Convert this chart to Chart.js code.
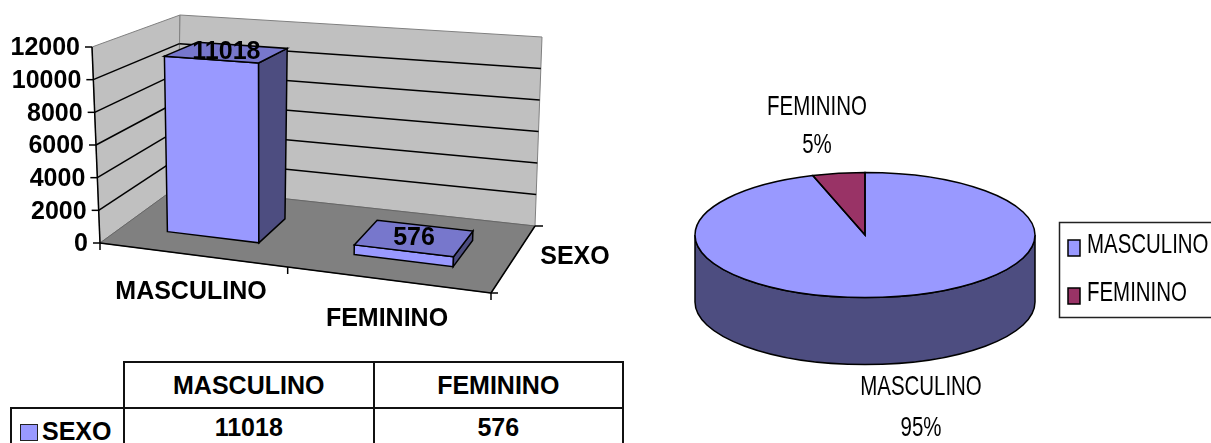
<!DOCTYPE html>
<html>
<head>
<meta charset="utf-8">
<title>SEXO</title>
<script src="https://cdn.jsdelivr.net/npm/chart.js@4"></script>
<style>
    html, body { margin: 0; background: #fff; overflow: hidden; }
    body { width: 1211px; height: 443px; position: relative; font-family: "Liberation Sans", Arial, sans-serif; }
    canvas { position: absolute; top: 0; }
    #barChart { left: 0; }
    #pieChart { left: 650px; }
    table { position: absolute; left: 10px; top: 361px; border-collapse: collapse; table-layout: fixed; width: 614px; }
    th, td { border: 2px solid #111; font-size: 25px; font-weight: bold; text-align: center; padding: 0; height: 44px; color: #000; line-height: 1; }
    th.blank { border-top: 0; border-left: 0; width: 112px; }
    td.name { text-align: left; white-space: nowrap; }
    td.name i { display: inline-block; width: 16px; height: 15px; background: #9999FF; border: 1.5px solid #222; margin: 0 4px 0 8px; vertical-align: -1px; }
    td { vertical-align: top; padding-top: 6px; height: 38px; }
    td.name { padding-top: 10px; height: 34px; }
</style>
</head>
<body>
<canvas id="barChart" width="650" height="345"></canvas>
<canvas id="pieChart" width="561" height="443"></canvas>
<table id="dataTable"></table>

<script>
const categories = ['MASCULINO', 'FEMININO'];
const seriesName = 'SEXO';
const sexoValues = [11018, 576];

const FONT = '"Liberation Sans", Arial, sans-serif';
const BOLD = 'bold 25px ' + FONT;

// corners of the 3d box on the page: u = along categories, v = depth, w = height
const box = {
    bottom: { front: [[100, 243], [491, 293]], back: [[177, 187], [535, 226]] },
    top: { front: [[92, 47], [499, 76]], back: [[180, 15], [542, 37]] }
};

function mix(a, b, t) {
    return [a[0] + (b[0] - a[0]) * t, a[1] + (b[1] - a[1]) * t];
}

function project(u, v, w) {
    // slight perspective along the category axis, the ends stay where they are
    const s = u - 0.08 * u * (1 - u);
    const low = mix(mix(box.bottom.front[0], box.bottom.front[1], s), mix(box.bottom.back[0], box.bottom.back[1], s), v);
    const high = mix(mix(box.top.front[0], box.top.front[1], s), mix(box.top.back[0], box.top.back[1], s), v);
    return mix(low, high, w);
}

function polygon(ctx, points, fill, stroke, lineWidth) {
    ctx.beginPath();
    points.forEach((p, i) => i ? ctx.lineTo(p[0], p[1]) : ctx.moveTo(p[0], p[1]));
    ctx.closePath();
    if (fill) { ctx.fillStyle = fill; ctx.fill(); }
    if (stroke) { ctx.strokeStyle = stroke; ctx.lineWidth = lineWidth || 1; ctx.stroke(); }
}

function line(ctx, a, b, color, width) {
    ctx.beginPath();
    ctx.moveTo(a[0], a[1]);
    ctx.lineTo(b[0], b[1]);
    ctx.strokeStyle = color;
    ctx.lineWidth = width;
    ctx.stroke();
}

function text(ctx, str, x, y, font, align) {
    ctx.font = font;
    ctx.fillStyle = '#000';
    ctx.textAlign = align || 'center';
    ctx.textBaseline = 'middle';
    ctx.fillText(str, x, y);
}

// the bars stay normal chart.js bars, this only redraws them as boxes
const box3d = {
    id: 'box3d',
    beforeDatasetsDraw(chart) {
        const ctx = chart.ctx;
        const yScale = chart.scales.y;
        const height = yScale.bottom - yScale.top;

        polygon(ctx, [project(0, 0, 0), project(0, 1, 0), project(0, 1, 1), project(0, 0, 1)], '#C0C0C0', '#808080', 1);
        polygon(ctx, [project(0, 1, 0), project(1, 1, 0), project(1, 1, 1), project(0, 1, 1)], '#C0C0C0', '#808080', 1);
        polygon(ctx, [project(0, 0, 0), project(1, 0, 0), project(1, 1, 0), project(0, 1, 0)], '#808080', '#666', 1);

        yScale.ticks.forEach(tick => {
            const w = (yScale.bottom - yScale.getPixelForValue(tick.value)) / height;
            const front = project(0, 0, w);
            if (w > 0 && w < 1) {
                line(ctx, front, project(0, 1, w), '#000', 1.5);
                line(ctx, project(0, 1, w), project(1, 1, w), '#000', 1.5);
            }
            line(ctx, [front[0] - 7, front[1]], front, '#000', 1.5);
            text(ctx, String(tick.value), front[0] - 12, front[1] + 1.5, BOLD, 'right');
        });

        line(ctx, project(0, 0, 0), project(0, 0, 1), '#000', 1.5);
        line(ctx, project(0, 0, 0), project(1, 0, 0), '#000', 1.5);
        line(ctx, project(1, 0, 0), project(1, 1, 0), '#000', 1.5);
        [0, 0.5, 1].forEach(u => {
            const p = project(u, 0, 0);
            line(ctx, p, [p[0], p[1] + 7], '#000', 1.5);
        });
        const corner = project(1, 0, 0);
        const end = project(1, 1, 0);
        line(ctx, corner, [corner[0] + 7, corner[1]], '#000', 1.5);
        line(ctx, end, [end[0] + 8, end[1]], '#000', 1.5);

        text(ctx, categories[0], 191, 292, BOLD);
        text(ctx, categories[1], 387, 319, BOLD);
        text(ctx, seriesName, 575, 257, BOLD);
    },
    beforeDatasetDraw(chart, args) {
        const ctx = chart.ctx;
        const area = chart.chartArea;
        const yScale = chart.scales.y;
        const ds = chart.data.datasets[args.index];
        args.meta.data.forEach((bar, i) => {
            const u0 = (bar.x - bar.width / 2 - area.left) / area.width;
            const u1 = (bar.x + bar.width / 2 - area.left) / area.width;
            const w = (yScale.bottom - bar.y) / (yScale.bottom - yScale.top);
            const v0 = 0.3, v1 = 0.7;

            polygon(ctx, [project(u0, v0, 0), project(u1, v0, 0), project(u1, v0, w), project(u0, v0, w)], ds.backgroundColor, '#000', 1.5);
            polygon(ctx, [project(u1, v0, 0), project(u1, v1, 0), project(u1, v1, w), project(u1, v0, w)], '#4D4D80', '#000', 1.5);
            polygon(ctx, [project(u0, v0, w), project(u1, v0, w), project(u1, v1, w), project(u0, v1, w)], '#7777CC', '#000', 1.5);

            const mid = project((u0 + u1) / 2, (v0 + v1) / 2, w);
            text(ctx, String(ds.data[i]), mid[0], mid[1], BOLD);
        });
        return false;
    }
};

new Chart(document.getElementById('barChart'), {
    type: 'bar',
    data: {
        labels: categories,
        datasets: [{ label: seriesName, data: sexoValues, backgroundColor: '#9999FF', barPercentage: 0.5, categoryPercentage: 1 }]
    },
    options: {
        responsive: false,
        animation: false,
        layout: { padding: { left: 100, right: 650 - 491, top: 47, bottom: 345 - 243 } },
        plugins: { legend: { display: false }, tooltip: { enabled: false } },
        scales: {
            x: { display: false },
            y: { display: false, min: 0, max: 12000, ticks: { stepSize: 2000 } }
        }
    },
    plugins: [box3d]
});

// pie text in the reference is narrow and tall
function narrowText(ctx, str, x, y) {
    ctx.save();
    ctx.translate(x, y);
    ctx.scale(0.73, 1);
    text(ctx, str, 0, 0, '28px ' + FONT);
    ctx.restore();
}

const PIE_SQUASH = 62.5 / 170;
const PIE_DEPTH = 67;

const pie3d = {
    id: 'pie3d',
    beforeDatasetsDraw(chart) {
        const ctx = chart.ctx;
        const arcs = chart.getDatasetMeta(0).data;
        const cx = arcs[0].x, cy = arcs[0].y, r = arcs[0].outerRadius;
        const ry = r * PIE_SQUASH;

        // side wall, only the front half is visible
        arcs.forEach(arc => {
            const a0 = Math.max(arc.startAngle, 0);
            const a1 = Math.min(arc.endAngle, Math.PI);
            if (a1 <= a0) return;
            ctx.beginPath();
            ctx.ellipse(cx, cy, r, ry, 0, a0, a1);
            ctx.ellipse(cx, cy + PIE_DEPTH, r, ry, 0, a1, a0, true);
            ctx.closePath();
            ctx.fillStyle = '#4D4D80';
            ctx.fill();
            ctx.strokeStyle = '#000';
            ctx.lineWidth = 1.5;
            ctx.stroke();
        });

        ctx.save();
        ctx.translate(cx, cy);
        ctx.scale(1, PIE_SQUASH);
        ctx.translate(-cx, -cy);
    },
    afterDatasetsDraw(chart) {
        const ctx = chart.ctx;
        ctx.restore();
        const arcs = chart.getDatasetMeta(0).data;
        const ry = arcs[0].outerRadius * PIE_SQUASH;
        arcs.forEach(arc => {
            ctx.beginPath();
            ctx.moveTo(arc.x, arc.y);
            ctx.ellipse(arc.x, arc.y, arc.outerRadius, ry, 0, arc.startAngle, arc.endAngle);
            ctx.closePath();
            ctx.strokeStyle = '#000';
            ctx.lineWidth = 1.5;
            ctx.stroke();
        });

        const values = chart.data.datasets[0].data;
        const total = values.reduce((a, b) => a + b, 0);
        const labelSpots = [[921 - 650, 387, 428], [817 - 650, 107, 145]];
        chart.data.labels.forEach((label, i) => {
            narrowText(ctx, label, labelSpots[i][0], labelSpots[i][1]);
            narrowText(ctx, Math.round(values[i] / total * 100) + '%', labelSpots[i][0], labelSpots[i][2]);
        });

        // legend box runs off the right edge of the page
        ctx.strokeStyle = '#222';
        ctx.lineWidth = 1.5;
        ctx.strokeRect(1059.5 - 650, 222.5, 170, 95);
        const legendY = [248, 296];
        chart.data.labels.forEach((label, i) => {
            ctx.fillStyle = chart.data.datasets[0].backgroundColor[i];
            ctx.fillRect(1068 - 650, legendY[i] - 8, 12, 16);
            ctx.strokeStyle = '#000';
            ctx.lineWidth = 1.5;
            ctx.strokeRect(1068 - 650, legendY[i] - 8, 12, 16);
            ctx.save();
            ctx.translate(1087 - 650, legendY[i] - 3);
            ctx.scale(0.73, 1);
            text(ctx, label, 0, 0, '28px ' + FONT, 'left');
            ctx.restore();
        });
    }
};

new Chart(document.getElementById('pieChart'), {
    type: 'pie',
    data: {
        labels: categories,
        datasets: [{ data: sexoValues, backgroundColor: ['#9999FF', '#993366'], borderWidth: 0 }]
    },
    options: {
        responsive: false,
        animation: false,
        layout: { padding: { left: 45, right: 561 - 385, top: 65, bottom: 443 - 405 } },
        plugins: { legend: { display: false }, tooltip: { enabled: false } }
    },
    plugins: [pie3d]
});

// data table under the bar chart
const table = document.getElementById('dataTable');
const headRow = table.insertRow();
const blank = document.createElement('th');
blank.className = 'blank';
headRow.appendChild(blank);
categories.forEach(name => {
    const th = document.createElement('th');
    th.textContent = name;
    headRow.appendChild(th);
});
const valueRow = table.insertRow();
const nameCell = valueRow.insertCell();
nameCell.className = 'name';
nameCell.innerHTML = '<i></i>' + seriesName;
sexoValues.forEach(v => {
    valueRow.insertCell().textContent = v;
});
</script>
</body>
</html>
